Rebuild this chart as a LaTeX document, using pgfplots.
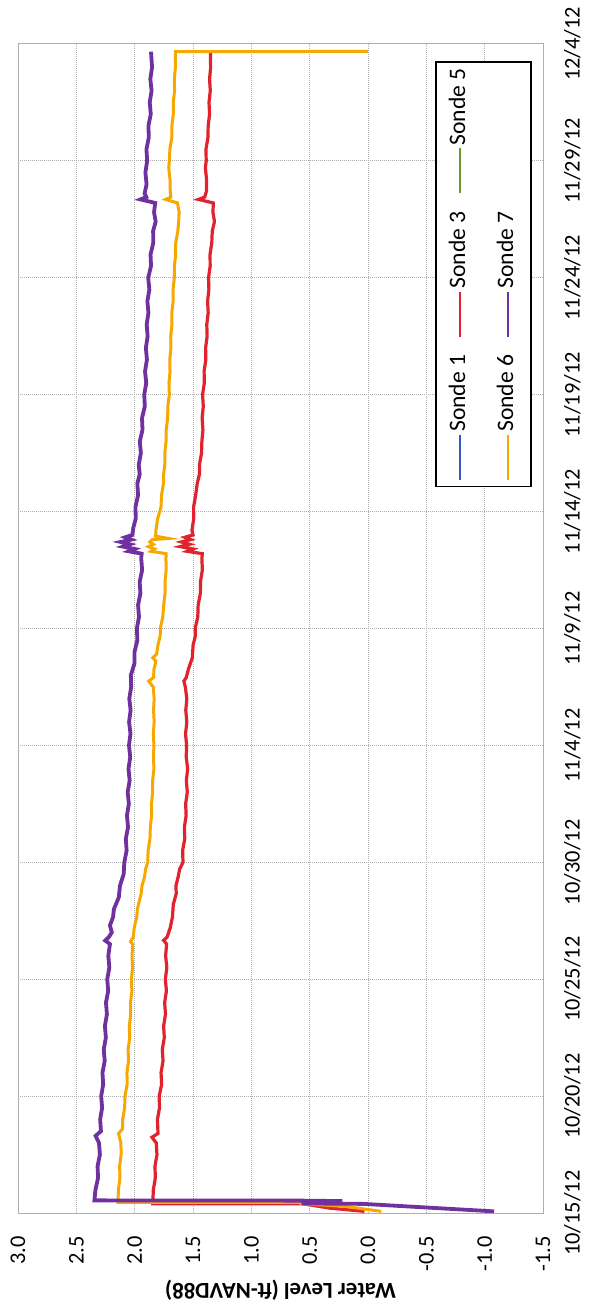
\documentclass[border=0pt]{standalone}
\usepackage{fontspec}
\setmainfont{Carlito}
\usepackage{pgfplots}
\pgfplotsset{compat=1.18}

\definecolor{sondeone}{RGB}{50,90,190}
\definecolor{sondethree}{RGB}{225,35,45}
\definecolor{sondefive}{RGB}{110,150,50}
\definecolor{sondesix}{RGB}{247,168,0}
\definecolor{sondeseven}{RGB}{112,48,160}
\definecolor{gridgray}{RGB}{175,175,175}

\begin{document}
\begin{tikzpicture}[rotate=90, transform shape]
\begin{axis}[
    scale only axis,
    width=584.5pt, height=262.5pt,
    clip=false,
    xmin=0, xmax=50, ymin=-1.5, ymax=3.0,
    xtick={0,5,...,50},
    xticklabels={10/15/12,10/20/12,10/25/12,10/30/12,11/4/12,11/9/12,11/14/12,11/19/12,11/24/12,11/29/12,12/4/12},
    ytick={-1.5,-1,...,3},
    yticklabel style={/pgf/number format/fixed, /pgf/number format/fixed zerofill, /pgf/number format/precision=1},
    /pgf/number format/assume math mode=true,
    major tick length=0pt,
    tick label style={font=\fontsize{11.2}{13}\selectfont},
    xticklabel style={yshift=-7pt},
    yticklabel style={xshift=-8pt},
    grid=major,
    grid style={gridgray, line width=0.5pt, dash pattern=on 0.7pt off 0.3pt},
    axis line style={gridgray, line width=0.5pt},
    ylabel={\textbf{Water Level (ft-NAVD88)}},
    every axis y label/.style={at={(axis description cs:-0.0659,0.5)}, rotate=90, anchor=center, font=\fontsize{11.4}{13}\selectfont},
    legend columns=3,
    legend cell align=left,
    legend image code/.code={\draw[#1, line width=1pt] (0pt,0pt) -- (22.5pt,0pt);},
    legend style={at={(0.985,0.021)}, anchor=south east, draw=black, line width=0.8pt,
        font=\fontsize{11.8}{13}\selectfont, inner xsep=3pt, inner ysep=6.5pt,
        row sep=13.5pt,
        nodes={inner sep=0pt, text height=8pt, text depth=2.5pt},
        /tikz/every odd column/.append style={column sep=1pt},
        /tikz/every even column/.append style={column sep=8.5pt}},
]
\addlegendimage{sondeone}
\addlegendentry{Sonde 1}

\addplot[sondethree, line width=1.6pt] coordinates {
(0.07,0.03)(0.21,0.33)(0.39,0.55)(0.40,1.845)
(1.0,1.840)(1.5,1.823)(2.0,1.826)(2.5,1.809)(3.0,1.815)(3.24,1.852)(3.4,1.800)
(4.0,1.805)(4.5,1.787)(5.0,1.790)(5.5,1.769)(6.0,1.774)(6.5,1.757)(7.0,1.763)
(7.5,1.746)(8.0,1.752)(8.5,1.736)(9.0,1.743)(9.5,1.728)(10.0,1.737)(10.5,1.724)
(11.0,1.735)(11.5,1.726)(11.66,1.752)(11.8,1.722)(12.2,1.695)(12.66,1.676)
(13.2,1.669)(13.65,1.644)(14.0,1.646)(14.36,1.628)(14.7,1.615)(15.0,1.586)
(15.5,1.589)(16.0,1.571)(16.5,1.574)(17.0,1.559)(17.5,1.563)(18.0,1.549)
(18.5,1.557)(19.0,1.546)(19.5,1.558)(20.0,1.555)(20.5,1.564)(21.0,1.553)
(21.5,1.562)(22.0,1.553)(22.5,1.566)(22.75,1.578)(22.9,1.558)(23.25,1.540)
(23.75,1.506)(24.3,1.499)(24.7,1.479)(25.0,1.481)(25.5,1.459)(26.0,1.456)
(26.5,1.437)(27.0,1.436)(27.5,1.420)(28.0,1.424)(28.2,1.42)(28.3,1.55)
(28.4,1.50)(28.5,1.61)(28.6,1.53)(28.7,1.60)(28.8,1.52)(28.9,1.57)(29.0,1.50)
(29.2,1.509)(29.7,1.494)(30.2,1.495)(30.7,1.477)(31.2,1.464)(31.6,1.445)
(32.0,1.445)(32.5,1.427)(33.0,1.424)(33.5,1.415)(34.0,1.422)(34.5,1.412)
(35.0,1.418)(35.5,1.403)(36.0,1.405)(36.5,1.390)(37.0,1.392)(37.5,1.379)
(38.0,1.382)(38.5,1.370)(39.0,1.375)(39.5,1.364)(40.0,1.367)(40.5,1.353)
(41.0,1.354)(41.5,1.339)(42.0,1.335)(42.4,1.316)(42.8,1.329)(43.2,1.326)
(43.35,1.454)(43.45,1.40)(43.7,1.385)(44.2,1.384)(44.7,1.394)(45.0,1.387)
(45.5,1.389)(46.0,1.372)(46.5,1.370)(47.0,1.358)(47.5,1.363)(48.0,1.352)
(48.5,1.358)(49.0,1.349)(49.67,1.351)
};
\addlegendentry{Sonde 3}

\addlegendimage{sondefive}
\addlegendentry{Sonde 5}

\addplot[sondesix, line width=1.5pt] coordinates {
(0.07,-0.113)(0.28,0.19)(0.40,0.57)(0.45,0.59)(0.45,2.143)
(1.0,2.139)(1.5,2.126)(2.0,2.129)(2.5,2.116)(3.0,2.118)(3.4,2.138)(3.6,2.104)
(4.0,2.103)(4.5,2.086)(5.0,2.083)(5.5,2.065)(6.0,2.066)(6.5,2.053)(7.0,2.056)
(7.5,2.043)(8.0,2.046)(8.5,2.034)(9.0,2.036)(9.5,2.024)(10.0,2.028)(10.5,2.018)
(11.0,2.023)(11.5,2.016)(11.6,2.036)(11.8,2.012)(12.2,2.004)(12.66,1.982)
(13.0,1.977)(13.65,1.945)(14.0,1.937)(14.36,1.916)(14.7,1.907)(15.0,1.888)
(15.5,1.885)(16.0,1.869)(16.5,1.866)(17.0,1.855)(17.5,1.856)(18.0,1.846)
(18.5,1.846)(19.0,1.835)(19.5,1.839)(20.0,1.835)(20.5,1.840)(21.0,1.833)
(21.5,1.838)(22.0,1.833)(22.5,1.841)(22.75,1.88)(22.9,1.838)(23.25,1.835)
(23.6,1.818)(23.75,1.845)(23.9,1.812)(24.3,1.800)(24.7,1.781)(25.0,1.780)
(25.5,1.759)(26.0,1.751)(26.5,1.740)(27.0,1.740)(27.5,1.730)(28.0,1.732)
(28.2,1.73)(28.3,1.86)(28.4,1.83)(28.5,1.883)(28.6,1.84)(28.7,1.87)(28.8,1.85)
(28.85,1.71)(28.95,1.82)(29.2,1.818)(29.7,1.803)(30.2,1.774)(30.7,1.770)
(31.2,1.753)(31.6,1.752)(32.0,1.742)(32.5,1.742)(33.0,1.731)(33.5,1.730)
(34.0,1.717)(34.5,1.716)(35.0,1.703)(35.5,1.706)(36.0,1.697)(36.5,1.699)
(37.0,1.689)(37.5,1.691)(38.0,1.681)(38.5,1.682)(39.0,1.670)(39.5,1.671)
(40.0,1.660)(40.5,1.660)(41.0,1.648)(41.5,1.648)(42.0,1.630)(42.4,1.623)
(42.8,1.619)(43.2,1.633)(43.35,1.734)(43.45,1.69)(43.7,1.695)(44.2,1.697)
(44.7,1.708)(45.0,1.703)(45.5,1.698)(46.0,1.682)(46.5,1.681)(47.0,1.669)
(47.5,1.669)(48.0,1.658)(48.5,1.660)(49.0,1.651)(49.6,1.651)(49.67,1.651)
(49.68,0.0)
};
\addlegendentry{Sonde 6}

\addplot[sondeseven, line width=1.9pt] coordinates {
(0.07,-1.08)(0.39,0.04)(0.41,0.57)(0.43,0.22)(0.45,0.57)(0.47,0.22)(0.49,0.57)
(0.51,0.22)(0.53,0.57)(0.54,2.345)
(1.0,2.336)(1.5,2.314)(2.0,2.318)(2.5,2.298)(3.0,2.306)(3.3,2.335)(3.5,2.289)
(4.0,2.296)(4.5,2.279)(5.0,2.287)(5.5,2.270)(6.0,2.276)(6.5,2.257)(7.0,2.265)
(7.5,2.247)(8.0,2.255)(8.5,2.238)(9.0,2.246)(9.5,2.227)(10.0,2.235)(10.5,2.217)
(11.0,2.226)(11.5,2.212)(11.65,2.252)(11.8,2.222)(12.0,2.196)(12.3,2.212)
(12.66,2.185)(13.0,2.178)(13.5,2.136)(14.0,2.126)(14.5,2.094)(15.0,2.089)
(15.5,2.069)(16.0,2.076)(16.5,2.057)(17.0,2.066)(17.5,2.050)(18.0,2.060)
(18.5,2.043)(19.0,2.053)(19.5,2.038)(20.0,2.049)(20.5,2.036)(21.0,2.048)
(21.5,2.035)(22.0,2.046)(22.5,2.030)(23.0,2.033)(23.5,2.002)(24.0,2.001)
(24.5,1.977)(25.0,1.981)(25.5,1.963)(26.0,1.971)(26.5,1.951)(27.0,1.957)
(27.5,1.936)(28.0,1.944)(28.2,1.94)(28.3,2.05)(28.4,2.00)(28.5,2.10)(28.6,2.04)
(28.7,2.12)(28.8,2.03)(28.9,2.08)(29.0,2.02)(29.3,2.012)(29.7,1.991)(30.2,1.993)
(30.7,1.971)(31.2,1.977)(31.6,1.957)(32.0,1.965)(32.5,1.947)(33.0,1.956)
(33.5,1.933)(34.0,1.937)(34.5,1.913)(35.0,1.918)(35.5,1.901)(36.0,1.911)
(36.5,1.895)(37.0,1.904)(37.5,1.889)(38.0,1.897)(38.5,1.882)(39.0,1.891)
(39.5,1.874)(40.0,1.884)(40.5,1.860)(41.0,1.864)(41.5,1.840)(42.0,1.842)
(42.4,1.820)(42.8,1.834)(43.2,1.824)(43.35,1.95)(43.45,1.90)(43.6,1.915)
(44.0,1.898)(44.5,1.908)(45.0,1.893)(45.5,1.899)(46.0,1.879)(46.5,1.882)
(47.0,1.862)(47.5,1.871)(48.0,1.855)(48.5,1.866)(49.0,1.851)(49.67,1.860)
};
\addlegendentry{Sonde 7}

\path (rel axis cs:-0.0821,-0.0857) rectangle (rel axis cs:1.0376,1.0343);
\end{axis}
\end{tikzpicture}
\end{document}
